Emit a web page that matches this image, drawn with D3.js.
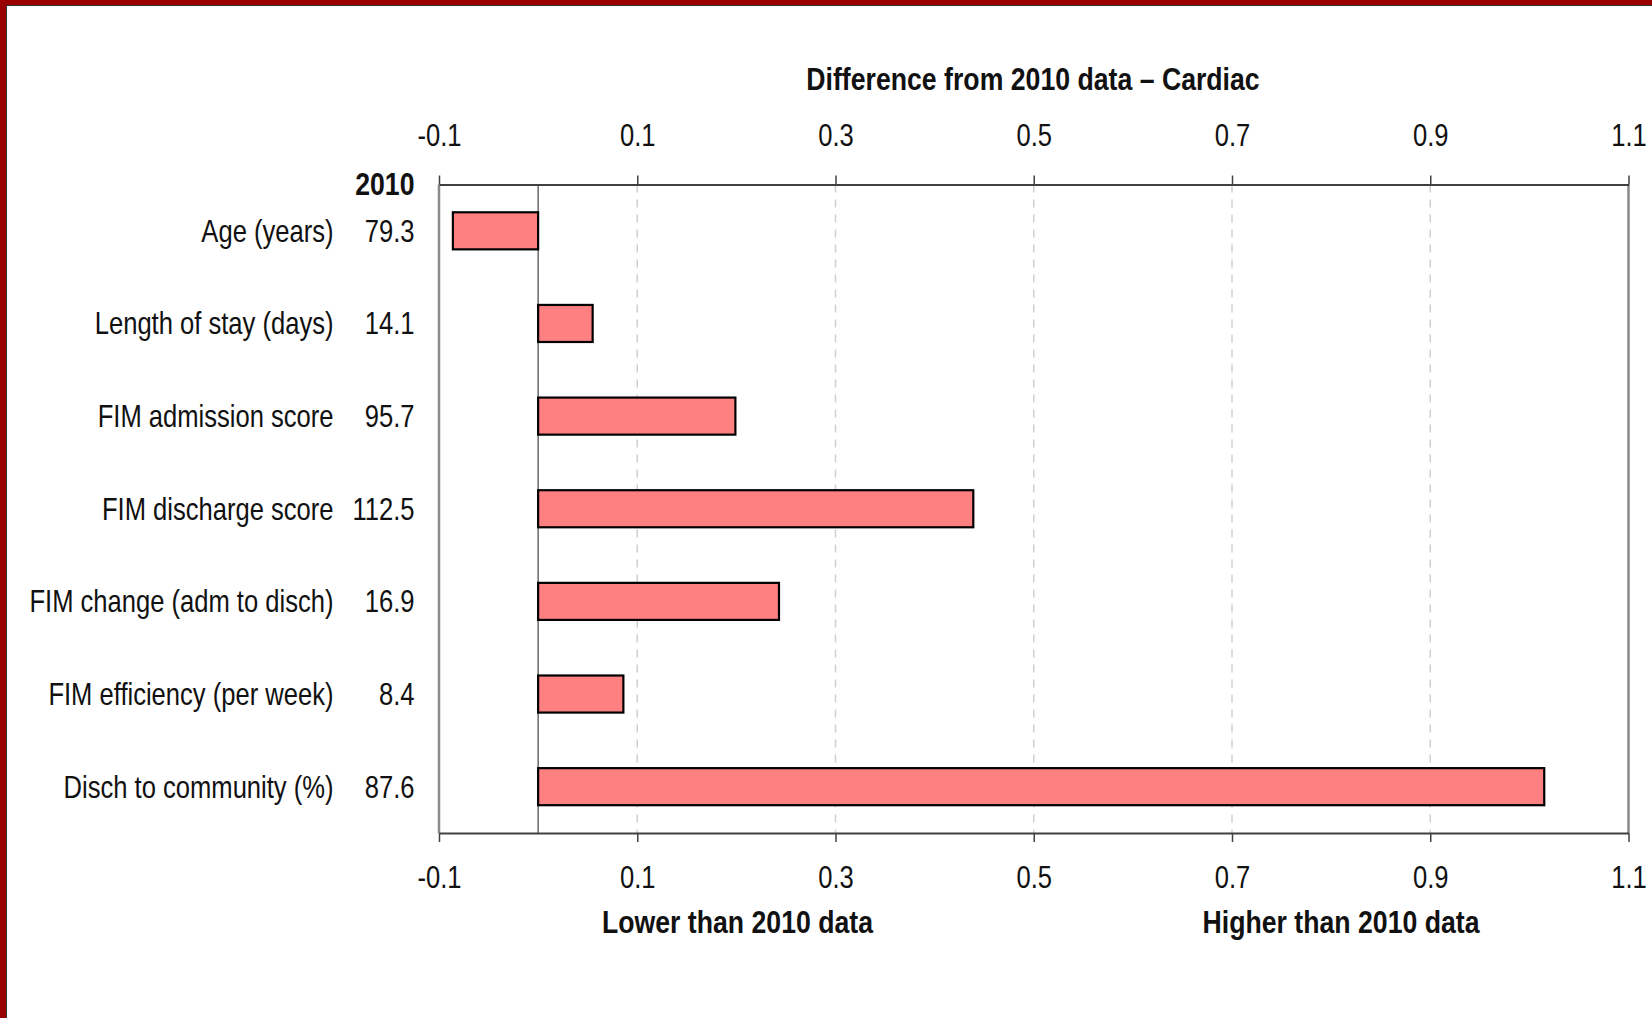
<!DOCTYPE html>
<html>
<head>
<meta charset="utf-8">
<script src="https://cdn.jsdelivr.net/npm/d3@7"></script>
<style>
  html, body { margin: 0; padding: 0; background: #fff; }
  svg { display: block; }
  text { font-family: "Liberation Sans Narrow", "Arial Narrow", "Liberation Sans", sans-serif; fill: #111; }
</style>
</head>
<body>
<svg id="chart" width="1652" height="1018"></svg>
<script>
// ---- data ----
const categories = [
  "Age (years)",
  "Length of stay (days)",
  "FIM admission score",
  "FIM discharge score",
  "FIM change (adm to disch)",
  "FIM efficiency (per week)",
  "Disch to community (%)"
];
const values2010 = ["79.3", "14.1", "95.7", "112.5", "16.9", "8.4", "87.6"];
const differences = [-0.086, 0.055, 0.199, 0.439, 0.243, 0.086, 1.015];
const tickValues = [-0.1, 0.1, 0.3, 0.5, 0.7, 0.9, 1.1];
const gridValues = [0.1, 0.3, 0.5, 0.7, 0.9];
const titleText = "Difference from 2010 data \u2013 Cardiac";
const yearLabel = "2010";
const lowerLabel = "Lower than 2010 data";
const higherLabel = "Higher than 2010 data";

// ---- layout ----
const W = 1652, H = 1018;
const plot = { left: 439, right: 1628.5, top: 184.5, bottom: 833 };
const SX = 0.825;      // horizontal condensing for regular text
const SXB = 0.86;      // for bold text
const FS = 31;
const svg = d3.select("#chart");

// frame border (slide edge)
svg.append("rect").attr("x", 0).attr("y", 0).attr("width", 6).attr("height", H).attr("fill", "#990000");
svg.append("rect").attr("x", 0).attr("y", 0).attr("width", W).attr("height", 5).attr("fill", "#990000");
svg.append("line").attr("x1", 6.5).attr("x2", 6.5).attr("y1", 5).attr("y2", H).attr("stroke", "#333").attr("stroke-width", 1);
svg.append("line").attr("x1", 6).attr("x2", W).attr("y1", 5.5).attr("y2", 5.5).attr("stroke", "#333").attr("stroke-width", 1);

const x = d3.scaleLinear().domain([-0.1, 1.1]).range([plot.left, plot.right]);
const y = d3.scaleBand().domain(categories).range([plot.top, plot.bottom])
  .paddingInner(0.6).paddingOuter(0.3);

// gridlines
svg.append("g").selectAll("line").data(gridValues).join("line")
  .attr("x1", d => x(d)).attr("x2", d => x(d))
  .attr("y1", plot.top).attr("y2", plot.bottom)
  .attr("stroke", "#cfcfcf").attr("stroke-width", 1.5)
  .attr("stroke-dasharray", "8,7");

// left and right frame lines
svg.append("line").attr("x1", x(-0.1)).attr("x2", x(-0.1)).attr("y1", plot.top).attr("y2", plot.bottom)
  .attr("stroke", "#8a8a8a").attr("stroke-width", 2.5);
svg.append("line").attr("x1", x(1.1)).attr("x2", x(1.1)).attr("y1", plot.top).attr("y2", plot.bottom)
  .attr("stroke", "#8a8a8a").attr("stroke-width", 2.5);

// zero line
svg.append("line").attr("x1", x(0)).attr("x2", x(0)).attr("y1", plot.top).attr("y2", plot.bottom)
  .attr("stroke", "#444").attr("stroke-width", 1.2);

// bars
svg.append("g").selectAll("rect").data(differences).join("rect")
  .attr("x", d => Math.min(x(0), x(d)))
  .attr("width", d => Math.abs(x(d) - x(0)))
  .attr("y", (d, i) => y(categories[i]))
  .attr("height", y.bandwidth())
  .attr("fill", "#ff8080")
  .attr("stroke", "#000")
  .attr("stroke-width", 2.2);

// axes
const fmt = d => d.toFixed(1);
const topAxis = d3.axisTop(x).tickValues(tickValues).tickFormat(fmt).tickSize(9).tickSizeOuter(0);
const botAxis = d3.axisBottom(x).tickValues(tickValues).tickFormat(fmt).tickSize(9).tickSizeOuter(0);

const gt = svg.append("g").attr("transform", `translate(0,${plot.top})`).call(topAxis);
const gb = svg.append("g").attr("transform", `translate(0,${plot.bottom})`).call(botAxis);
[gt, gb].forEach(g => {
  g.select(".domain").attr("stroke", "#404040").attr("stroke-width", 2);
  g.selectAll(".tick line").attr("stroke", "#404040").attr("stroke-width", 1.5);
  g.selectAll(".tick text")
    .attr("font-family", "Liberation Sans Narrow, Arial Narrow, Liberation Sans, sans-serif")
    .attr("font-size", FS).attr("fill", "#1a1a1a")
    .attr("dy", null).attr("y", 0).attr("dominant-baseline", "central");
});
gt.selectAll(".tick text").attr("transform", `translate(0,-49.5) scale(${SX},1)`);
gb.selectAll(".tick text").attr("transform", `translate(0,43.6) scale(${SX},1)`);

// helper for condensed text
function label(g, tx, ty, sx, anchor, bold, str) {
  return g.append("text")
    .attr("transform", `translate(${tx},${ty}) scale(${sx},1)`)
    .attr("text-anchor", anchor).attr("dominant-baseline", "central")
    .attr("font-size", FS).attr("font-weight", bold ? "bold" : "normal")
    .attr("fill", bold ? "#111" : "#1a1a1a")
    .text(str);
}

// category labels and 2010 values
const gl = svg.append("g");
categories.forEach((c, i) => {
  const cy = y(c) + y.bandwidth() / 2;
  label(gl, 333.5, cy, SX, "end", false, c);
  label(gl, 414.5, cy, SX, "end", false, values2010[i]);
});
label(gl, 414.5, 184, SXB, "end", true, yearLabel);

// title and bottom labels
label(svg, 1033, 79, SXB, "middle", true, titleText);
label(svg, 737.5, 922, SXB, "middle", true, lowerLabel);
label(svg, 1341, 922, SXB, "middle", true, higherLabel);
</script>
</body>
</html>
